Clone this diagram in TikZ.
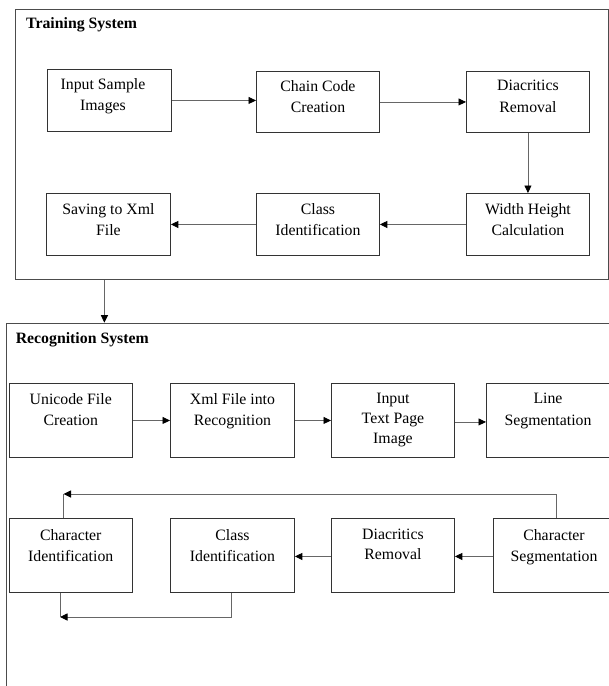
\documentclass[tikz,border=0pt]{standalone}
\usepackage{fontspec}
\setmainfont{Liberation Serif}
\usetikzlibrary{arrows.meta,calc}
\tikzset{
  box/.style={draw=black!80, line width=0.9pt, rectangle, inner sep=0pt, anchor=north west},
  frame/.style={draw=black!70, line width=0.9pt, rectangle, inner sep=0pt, anchor=north west},
  txt/.style={anchor=north, align=center, inner sep=0pt, font=\fontsize{15.8}{21.5}\selectfont},
  ttl/.style={anchor=west, inner sep=0pt, font=\fontsize{15.8}{19}\selectfont\bfseries},
  conn/.style={draw=black!60, line width=0.9pt},
  arr/.style={conn, -{Triangle[length=7.5pt,width=7pt,fill=black,color=black]}},
}
\begin{document}
\begin{tikzpicture}[x=1pt,y=-1pt]
\useasboundingbox (0,0) rectangle (609,686);
% frames
\node[frame, minimum width=592.5, minimum height=270] (TS) at (15,9) {};
\node[ttl] (TSt) at (26,25) {Training System};
\node[frame, minimum width=620, minimum height=400] (RS) at (6,322.7) {};
\node[ttl] (RSt) at (15.6,340) {Recognition System};
% training boxes
\node[box, minimum width=124, minimum height=62] (T1) at (47,69) {};
\node[txt] (T1t) at (103,78) {Input Sample\\Images};
\node[box, minimum width=123, minimum height=61] (T2) at (256,71) {};
\node[txt] (T2t) at ($(T2.north)+(0,9)$) {Chain Code\\Creation};
\node[box, minimum width=123, minimum height=61] (T3) at (466,71) {};
\node[txt] (T3t) at ($(T3.north)+(0,9)$) {Diacritics\\Removal};
\node[box, minimum width=124, minimum height=62] (T4) at (46,193) {};
\node[txt] (T4t) at ($(T4.north)+(0,10)$) {Saving to Xml\\File};
\node[box, minimum width=123, minimum height=62] (T5) at (256,193) {};
\node[txt] (T5t) at ($(T5.north)+(0,10)$) {Class\\Identification};
\node[box, minimum width=123, minimum height=62] (T6) at (466,193) {};
\node[txt] (T6t) at ($(T6.north)+(0,10)$) {Width Height\\Calculation};
\draw[arr] (T1.east) -- (T1.east -| T2.west);
\draw[arr] (T2.east) -- (T2.east -| T3.west);
\draw[arr] (T3.south) -- (T6.north);
\draw[arr] (T6.west) -- (T6.west -| T5.east);
\draw[arr] (T5.west) -- (T5.west -| T4.east);
% link
\coordinate (lk) at (104.4,0);
\draw[arr] (TS.south -| lk) -- (RS.north -| lk);
% recognition row 1
\node[box, minimum width=123.4, minimum height=74] (A) at (8.6,383) {};
\node[txt] (At) at ($(A.north)+(0,10)$) {Unicode File\\Creation};
\node[box, minimum width=124, minimum height=74] (B) at (170,383) {};
\node[txt] (Bt) at ($(B.north)+(0,10)$) {Xml File into\\Recognition};
\node[box, minimum width=123, minimum height=74] (C) at (331,383) {};
\node[txt, font=\fontsize{15.8}{20}\selectfont] (Ct) at ($(C.north)+(0,10)$) {Input\\Text Page\\Image};
\node[box, minimum width=125, minimum height=74] (D) at (486,383) {};
\node[txt] (Dt) at (548,393) {Line\\Segmentation};
\draw[arr] (A.east) -- (A.east -| B.west);
\draw[arr] (B.east) -- (B.east -| C.west);
\draw[arr] ($(C.east)+(0,1.5)$) -- ($(C.east -| D.west)+(0,1.5)$);
% recognition row 2
\node[box, minimum width=123.4, minimum height=74] (E) at (8.6,518) {};
\node[txt] (Et) at ($(E.north)+(0,11)$) {Character\\Identification};
\node[box, minimum width=124, minimum height=74] (F) at (170,518) {};
\node[txt] (Ft) at ($(F.north)+(0,11)$) {Class\\Identification};
\node[box, minimum width=123, minimum height=74] (G) at (331,518) {};
\node[txt, font=\fontsize{15.8}{19.5}\selectfont] (Gt) at ($(G.north)+(0,11)$) {Diacritics\\Removal};
\node[box, minimum width=122, minimum height=74] (H) at (493,518) {};
\node[txt] (Ht) at (554,529) {Character\\Segmentation};
\draw[arr] ($(H.west)+(0,1)$) -- ($(H.west -| G.east)+(0,1)$);
\draw[arr] ($(G.west)+(0,1)$) -- ($(G.west -| F.east)+(0,1)$);
% feedback top
\coordinate (hx) at (556,0);
\coordinate (ex) at (63.5,0);
\coordinate (topy) at (0,494);
\coordinate (c1) at (ex |- topy);
\draw[arr] (H.north -| hx) -- (hx |- topy) -- (c1);
\draw[conn] (E.north -| ex) -- (c1);
% feedback bottom
\coordinate (fx) at (231.5,0);
\coordinate (ex2) at (60,0);
\coordinate (boty) at (0,617);
\coordinate (c2) at (ex2 |- boty);
\draw[arr] (F.south -| fx) -- (fx |- boty) -- (c2);
\draw[conn] (E.south -| ex2) -- (c2);
\end{tikzpicture}
\end{document}
